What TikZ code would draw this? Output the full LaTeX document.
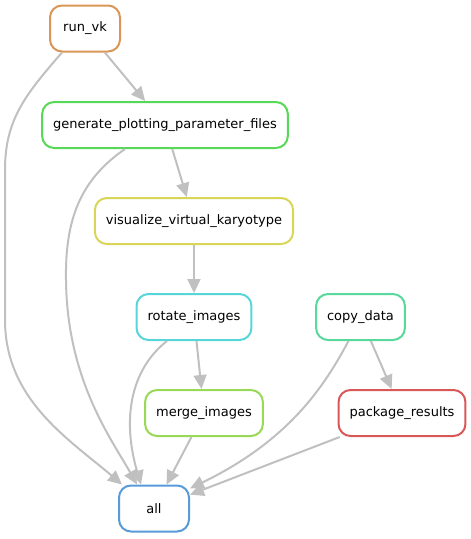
\documentclass[tikz,border=0pt]{standalone}
\usepackage{fontspec}
\setmainfont{DejaVu Sans}
\usepackage{xcolor}
\usepackage{tikz}
\usetikzlibrary{arrows.meta, positioning}

\definecolor{cRunvk}{RGB}{217,150,87}
\definecolor{cGen}{RGB}{87,217,87}
\definecolor{cVis}{RGB}{217,213,87}
\definecolor{cRot}{RGB}{87,214,217}
\definecolor{cCopy}{RGB}{87,217,155}
\definecolor{cMerge}{RGB}{152,217,87}
\definecolor{cPkg}{RGB}{217,87,87}
\definecolor{cAll}{RGB}{87,155,217}
\definecolor{cEdge}{RGB}{192,192,192}

\begin{document}
\begin{tikzpicture}[x=1pt, y=-1pt,
    rule/.style={rectangle, draw, line width=2pt, rounded corners=12pt, fill=white, minimum width=70pt, minimum height=46pt, inner xsep=11pt, align=center, font=\fontsize{13}{15}\selectfont},
    dep/.style={line width=2pt, cEdge, -{Triangle[length=14pt, width=13pt]}}]
        \useasboundingbox (0,0) rectangle (471,539);

        \node[rule, draw=cRunvk] (runvk) at (85,28.5) {run\_vk};
        \node[rule, draw=cGen] (gen) at (165,125) {generate\_plotting\_parameter\_files};
        \node[rule, draw=cVis] (vis) at (194,221) {visualize\_virtual\_karyotype};
        \node[rule, draw=cRot] (rotate) at (194,317) {rotate\_images};
        \node[rule, draw=cCopy] (copy) at (360.5,317) {copy\_data};
        \node[rule, draw=cMerge] (merge) at (204,413) {merge\_images};
        \node[rule, draw=cPkg] (pkg) at (402,413) {package\_results};
        \node[rule, draw=cAll] (all) at (154,508.5) {all};

        \draw [dep] (runvk) -- (gen);
        \draw [dep] (gen) -- (vis);
        \draw [dep] (vis) -- (rotate);
        \draw [dep] (rotate) -- (merge);
        \draw [dep] (copy) -- (pkg);
        \draw [dep] (merge) -- (all);
        \draw [dep] (pkg) -- (all);
        % curved edges into all
        \draw [dep] ([xshift=-23pt]runvk.south) .. controls (25,95) and (5,120) .. (5,170)
            -- (5,320) .. controls (5,400) and (70,440) .. ([xshift=-32pt]all.north);
        \draw [dep] ([xshift=-40pt]gen.south) .. controls (80,180) and (65,220) .. (66,280)
            .. controls (67,380) and (112,440) .. ([xshift=-17pt]all.north);
        \draw [dep] ([xshift=-27pt]rotate.south) .. controls (130,370) and (122,420) .. ([xshift=-13pt]all.north);
        \draw [dep] ([xshift=-12pt]copy.south) .. controls (325,385) and (290,440) .. ([yshift=-4pt]all.north east);
    \end{tikzpicture}
\end{document}
